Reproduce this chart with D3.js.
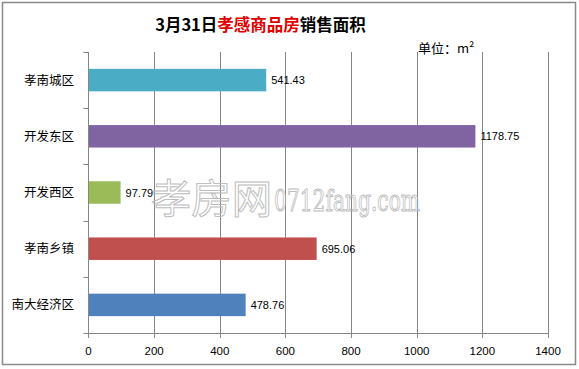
<!DOCTYPE html>
<html><head><meta charset="utf-8">
<script src="https://cdn.jsdelivr.net/npm/d3@7"></script>
<style>body{margin:0;background:#fff}svg{display:block}</style>
</head><body>
<svg id="c" width="579" height="369"></svg>
<script>
const categories = ["孝南城区","开发东区","开发西区","孝南乡镇","南大经济区"];
const values = [541.43, 1178.75, 97.79, 695.06, 478.76];
const colors = ["#4BACC6","#8064A2","#9BBB59","#C0504D","#4F81BD"];
const xTicks = [0,200,400,600,800,1000,1200,1400];

const svg = d3.select("#c");
const cjk = "'Noto Sans CJK SC','Microsoft YaHei',sans-serif";
const num = "'Liberation Sans',Arial,sans-serif";

svg.append("rect").attr("x",2.5).attr("y",2.5).attr("width",573).attr("height",362)
  .attr("fill","#fff").attr("stroke","#898989").attr("stroke-width",1.5);

const m = {l:88.5, r:548, t:52, b:333};
const x = d3.scaleLinear().domain([0,1400]).range([m.l,m.r]);
const y = d3.scaleBand().domain(categories).range([m.t,m.b]).paddingInner(0.6).paddingOuter(0.3);
const yb = d3.scaleBand().domain(categories).range([m.t,m.b]);

// grid
svg.append("g").selectAll("line").data(xTicks.slice(1)).join("line")
  .attr("x1",d=>Math.round(x(d))+0.5).attr("x2",d=>Math.round(x(d))+0.5)
  .attr("y1",m.t).attr("y2",m.b+5).attr("stroke","#868686").attr("stroke-width",1);

// bars
svg.append("g").selectAll("rect").data(values).join("rect")
  .attr("x",x(0)).attr("y",(d,i)=>y(categories[i]))
  .attr("width",d=>x(d)-x(0)).attr("height",y.bandwidth())
  .attr("fill",(d,i)=>colors[i]);

// value labels
svg.append("g").selectAll("text").data(values).join("text")
  .attr("x",d=>x(d)+5).attr("y",(d,i)=>y(categories[i])+y.bandwidth()/2+4)
  .attr("font-family",num).attr("font-size",11).attr("fill","#000")
  .text(d=>d.toFixed(2));

// watermark
const wm = svg.append("g").attr("fill","none").attr("stroke","#bdbdbd").attr("stroke-width",1);
wm.append("text").attr("x",151).attr("y",213).attr("font-family",cjk).attr("font-size",40)
  .attr("textLength",121).attr("lengthAdjust","spacingAndGlyphs").text("孝房网");
wm.append("text").attr("x",274).attr("y",211).attr("font-family","'DejaVu Serif',serif").attr("font-size",29)
  .attr("textLength",146).attr("lengthAdjust","spacingAndGlyphs").text("0712fang.com");

// y axis
const yAxis = svg.append("g");
yAxis.append("line").attr("x1",m.l).attr("x2",m.l).attr("y1",m.t).attr("y2",m.b+5).attr("stroke","#868686");
yAxis.selectAll("line.t").data(d3.range(categories.length+1)).join("line").attr("class","t")
  .attr("x1",m.l-5).attr("x2",m.l).attr("y1",d=>Math.round(m.t+d*yb.step())+0.5).attr("y2",d=>Math.round(m.t+d*yb.step())+0.5)
  .attr("stroke","#868686");
yAxis.selectAll("text").data(categories).join("text")
  .attr("x",74).attr("y",d=>yb(d)+yb.bandwidth()/2+4.5).attr("text-anchor","end")
  .attr("font-family",cjk).attr("font-size",12.5).attr("fill","#000").text(d=>d);

// x axis
const xAxis = svg.append("g");
xAxis.append("line").attr("x1",m.l).attr("x2",m.r).attr("y1",m.b+0.5).attr("y2",m.b+0.5).attr("stroke","#868686");
xAxis.selectAll("text").data(xTicks).join("text")
  .attr("x",d=>x(d)).attr("y",355).attr("text-anchor","middle")
  .attr("font-family",num).attr("font-size",11.5).attr("fill","#000").text(d=>d);

// title
const t = svg.append("text").attr("x",260.5).attr("y",31).attr("text-anchor","middle")
  .attr("font-family",cjk).attr("font-size",16.5).attr("font-weight","bold");
t.append("tspan").attr("fill","#000").text("3月31日");
t.append("tspan").attr("fill","#E00000").text("孝感商品房");
t.append("tspan").attr("fill","#000").text("销售面积");

svg.append("text").attr("x",418).attr("y",53).attr("font-family",cjk).attr("font-size",13)
  .attr("fill","#000").text("单位：m²");
</script>
</body></html>
